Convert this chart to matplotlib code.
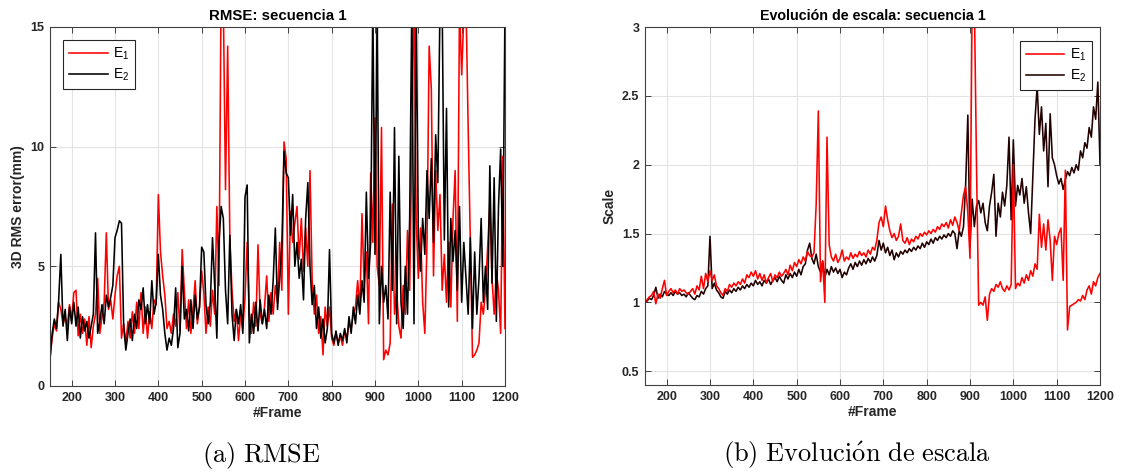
import matplotlib
matplotlib.use('Agg')
import matplotlib.pyplot as plt
import numpy as np

# ---------------- data ----------------
frames = np.arange(150, 1201, 5)

rmse_e1 = [
    1.2, 2.0, 2.6, 2.3, 3.5, 3.2, 2.6, 2.9, 2.5, 3.4,
    2.8, 3.9, 4.0, 2.1, 3.0, 2.2, 2.8, 1.7, 2.9, 1.6,
    2.5, 3.0, 4.5, 2.2, 2.9, 3.5, 6.4, 3.2, 3.6, 2.8,
    3.8, 4.6, 5.0, 2.0, 2.6, 1.8, 2.7, 2.0, 3.1, 2.2,
    3.5, 2.4, 3.9, 2.2, 3.3, 2.0, 3.1, 2.4, 3.6, 3.4,
    8.0, 5.6, 4.6, 3.8, 2.4, 2.7, 2.2, 3.0, 2.5, 3.9,
    2.3, 5.7, 4.0, 2.4, 3.6, 2.2, 3.2, 4.4, 2.6, 3.3,
    4.8, 3.9, 2.2, 3.3, 2.5, 4.0, 3.0, 7.5, 4.2, 17.0,
    16.0, 8.2, 14.2, 6.2, 4.0, 2.7, 3.2, 1.9, 3.0, 2.4,
    3.7, 6.0, 3.0, 2.2, 3.5, 2.5, 5.9, 3.0, 2.6, 3.3,
    4.6, 2.7, 3.9, 3.0, 4.2, 3.5, 6.0, 4.0, 10.2, 9.5,
    3.0, 7.3, 6.0, 6.8, 7.5, 5.3, 7.0, 4.8, 6.6, 5.0,
    9.0, 4.4, 3.0, 3.8, 2.2, 2.9, 1.3, 3.3, 2.5, 3.3,
    2.0, 1.7, 2.2, 1.8, 2.1, 1.7, 2.3, 2.0, 2.6, 2.4,
    3.0, 3.3, 4.4, 3.2, 7.2, 4.2, 5.6, 2.6, 8.9, 6.0,
    11.2, 5.0, 4.2, 10.8, 1.1, 1.5, 1.3, 1.8, 7.6, 3.0,
    4.0, 2.5, 2.0, 4.2, 3.0, 6.5, 4.0, 10.0, 17.0, 7.0,
    4.5, 6.6, 3.5, 2.2, 6.0, 14.2, 12.4, 4.6, 9.0, 6.5,
    8.0, 4.0, 5.5, 3.5, 6.0, 3.3, 7.0, 9.0, 2.7, 16.0,
    13.0, 15.5, 16.0, 10.8, 6.0, 1.2, 1.3, 1.5, 1.8, 3.5,
    3.0, 4.0, 5.8, 7.6, 4.5, 3.0, 4.8, 4.0, 2.2, 9.6,
    2.4,
]

rmse_e2 = [
    1.1, 2.2, 2.8, 2.4, 3.6, 5.5, 2.5, 3.2, 1.9, 3.3,
    2.6, 3.5, 2.5, 3.3, 2.0, 2.9, 2.3, 2.7, 2.0, 2.5,
    3.0, 6.4, 2.2, 2.7, 3.4, 2.6, 3.8, 3.3, 3.7, 4.2,
    6.2, 6.5, 6.9, 6.8, 2.5, 1.5, 2.2, 2.8, 1.9, 3.0,
    2.4, 3.6, 3.2, 4.1, 2.6, 3.4, 2.6, 4.4, 3.0, 3.5,
    5.5, 3.8, 3.2, 2.2, 1.5, 2.0, 1.7, 2.4, 4.1, 1.6,
    2.2, 5.0, 2.8, 3.2, 2.3, 3.6, 2.4, 3.8, 2.8, 3.3,
    5.8, 5.6, 3.4, 2.6, 3.5, 6.2, 4.2, 2.0, 6.0, 7.5,
    7.0, 4.0, 2.6, 6.3, 3.0, 1.9, 3.2, 2.6, 3.4, 2.2,
    7.9, 8.4, 1.8, 3.0, 2.2, 3.5, 2.3, 3.6, 2.6, 3.2,
    2.4, 3.8, 3.0, 4.4, 6.6, 3.2, 4.5, 5.8, 9.8, 8.9,
    8.7, 6.3, 8.0, 5.0, 6.0, 4.5, 5.3, 3.6, 7.0, 8.5,
    5.0, 3.4, 4.2, 2.4, 3.3, 2.0, 2.8, 1.8, 2.4, 5.7,
    2.2, 1.8, 2.3, 1.7, 2.2, 1.9, 2.4, 1.8, 2.9, 2.2,
    3.3, 2.6, 3.8, 3.0, 4.4, 3.5, 8.1, 4.5, 6.0, 16.0,
    5.5, 16.0, 2.6, 5.0, 3.5, 4.2, 2.8, 8.1, 4.0, 10.8,
    2.6, 9.6, 3.5, 2.4, 5.0, 3.0, 7.0, 16.0, 2.6, 16.0,
    6.2, 4.8, 7.0, 5.5, 9.0, 7.0, 9.5, 6.0, 10.5, 8.5,
    16.0, 16.0, 6.1, 11.6, 3.3, 7.0, 5.2, 6.5, 4.0, 7.5,
    3.5, 6.0, 4.5, 3.0, 6.2, 2.4, 5.6, 3.0, 4.5, 7.0,
    3.5, 5.0, 3.2, 9.2, 4.3, 8.7, 2.7, 7.5, 9.9, 5.0,
    16.0,
]

scale_e1 = [
    1.00, 1.02, 1.04, 1.05, 1.08, 0.99, 1.06, 1.03, 1.10, 1.16,
    1.05, 1.08, 1.10, 1.07, 1.09, 1.06, 1.10, 1.08, 1.09, 1.07,
    1.06, 1.08, 1.10, 1.06, 1.12, 1.09, 1.19, 1.10, 1.21, 1.15,
    1.23, 1.16, 1.20, 1.12, 1.10, 1.07, 1.05, 1.10, 1.08, 1.13,
    1.11, 1.14, 1.12, 1.15, 1.13, 1.17, 1.14, 1.20, 1.18, 1.22,
    1.19, 1.23, 1.17, 1.21, 1.16, 1.20, 1.14, 1.18, 1.21, 1.15,
    1.20, 1.18, 1.22, 1.19, 1.21, 1.24, 1.20, 1.27, 1.23, 1.29,
    1.26, 1.31, 1.28, 1.33, 1.30, 1.37, 1.34, 1.33, 1.36, 1.71,
    2.39, 1.15, 1.30, 1.00, 2.20, 1.42, 1.33, 1.30, 1.35, 1.29,
    1.32, 1.38, 1.30, 1.33, 1.31, 1.36, 1.32, 1.35, 1.33, 1.37,
    1.34, 1.36, 1.33, 1.38, 1.35, 1.40, 1.38, 1.45, 1.58, 1.62,
    1.55, 1.70, 1.60, 1.52, 1.47, 1.50, 1.45, 1.48, 1.57, 1.45,
    1.43, 1.47, 1.42, 1.46, 1.44, 1.48, 1.46, 1.50, 1.48, 1.51,
    1.49, 1.52, 1.50, 1.53, 1.51, 1.55, 1.53, 1.57, 1.55, 1.58,
    1.54, 1.60, 1.56, 1.62, 1.58, 1.52, 1.65, 1.78, 1.84, 1.65,
    1.32, 3.20, 3.20, 2.00, 0.98, 1.00, 0.98, 1.04, 0.87, 1.06,
    1.10, 1.08, 1.13, 1.11, 1.15, 1.10, 1.08, 1.12, 1.09, 1.13,
    2.00, 1.10, 1.14, 1.12, 1.18, 1.14, 1.20, 1.16, 1.23, 1.19,
    1.28, 1.24, 1.64, 1.40, 1.57, 1.38, 1.60, 1.45, 1.16, 1.48,
    1.42, 1.50, 1.54, 1.16, 1.96, 0.80, 0.97, 0.98, 0.99, 1.00,
    1.02, 1.01, 1.05, 1.02, 1.09, 1.12, 1.06, 1.15, 1.12, 1.18,
    1.21,
]

scale_e2 = [
    1.00, 1.01, 1.03, 1.02, 1.05, 1.11, 1.03, 1.06, 1.04, 1.08,
    1.06, 1.05, 1.07, 1.05, 1.08, 1.06, 1.07, 1.05, 1.06, 1.04,
    1.07, 1.05, 1.03, 1.02, 1.05, 1.04, 1.08, 1.06, 1.10, 1.12,
    1.48, 1.10, 1.14, 1.09, 1.07, 1.04, 1.03, 1.08, 1.06, 1.09,
    1.07, 1.10, 1.08, 1.11, 1.09, 1.12, 1.10, 1.13, 1.11, 1.14,
    1.12, 1.16, 1.13, 1.15, 1.12, 1.16, 1.14, 1.17, 1.13, 1.16,
    1.18, 1.15, 1.19, 1.16, 1.14, 1.20, 1.17, 1.21, 1.18, 1.22,
    1.19, 1.24, 1.20, 1.26, 1.28, 1.38, 1.43, 1.32, 1.28, 1.35,
    1.26, 1.22, 1.30, 1.18, 1.24, 1.20, 1.26, 1.22, 1.25, 1.21,
    1.24, 1.18, 1.22, 1.20, 1.25, 1.28, 1.24, 1.29, 1.26, 1.30,
    1.27, 1.31, 1.28, 1.32, 1.29, 1.33, 1.30, 1.34, 1.45, 1.38,
    1.43, 1.36, 1.40, 1.34, 1.38, 1.31, 1.36, 1.33, 1.37, 1.35,
    1.38, 1.36, 1.39, 1.37, 1.40, 1.38, 1.41, 1.39, 1.43, 1.40,
    1.44, 1.42, 1.46, 1.43, 1.47, 1.45, 1.48, 1.46, 1.49, 1.47,
    1.50, 1.48, 1.52, 1.50, 1.39, 1.52, 1.48, 1.55, 1.86, 2.36,
    1.40, 1.75, 1.55, 1.70, 1.74, 1.65, 1.72, 1.58, 1.52, 1.70,
    1.80, 1.93, 1.48, 1.72, 1.62, 1.80, 1.70, 1.85, 2.20, 1.60,
    2.18, 1.70, 1.85, 1.78, 1.90, 1.72, 1.84, 1.65, 1.50, 1.91,
    2.33, 2.57, 2.22, 2.42, 2.10, 2.30, 1.84, 2.37, 2.05, 2.00,
    1.92, 1.86, 1.90, 1.82, 1.89, 1.95, 1.92, 1.98, 1.94, 2.00,
    1.96, 2.10, 2.05, 2.16, 2.12, 2.27, 2.20, 2.42, 2.33, 2.60,
    2.00,
]

x_ticks = [200, 300, 400, 500, 600, 700, 800, 900, 1000, 1100, 1200]
rmse_yticks = [0, 5, 10, 15]
scale_yticks = [0.5, 1, 1.5, 2, 2.5, 3]
labels = [r'$\mathregular{E_1}$', r'$\mathregular{E_2}$']

# ---------------- style ----------------
plt.rcParams['font.family'] = ['Liberation Sans', 'DejaVu Sans']
plt.rcParams['mathtext.fontset'] = 'cm'

RED = '#ff0000'
BLACK = '#000000'
DARK = '#220000'
AXC = '#262626'
LW = 1.15

fig = plt.figure(figsize=(11.24, 4.75), dpi=100)
ax1 = fig.add_axes([50 / 1124, 89 / 475, 455 / 1124, 359 / 475])
ax2 = fig.add_axes([645 / 1124, 90 / 475, 455 / 1124, 358 / 475])


def style(ax, yticks, ylim):
    ax.set_xlim(150, 1200)
    ax.set_ylim(*ylim)
    ax.set_xticks(x_ticks)
    ax.set_yticks(yticks)
    ax.grid(True, color='#e3e3e3', linewidth=0.8)
    ax.set_axisbelow(True)
    ax.tick_params(direction='in', length=4, width=0.6, top=True, right=True,
                   labelsize=9, colors=AXC, pad=4)
    for lab in ax.get_xticklabels() + ax.get_yticklabels():
        lab.set_fontweight('bold')
    for sp in ax.spines.values():
        sp.set_color('#404040')
        sp.set_linewidth(0.8)


# ---- left: RMSE ----
l1, = ax1.plot(frames, rmse_e1, color=RED, lw=LW)
l2, = ax1.plot(frames, rmse_e2, color=BLACK, lw=LW)
style(ax1, rmse_yticks, (0, 15))
ax1.set_title('RMSE: secuencia 1', fontsize=10.8, fontweight='bold', pad=5)
ax1.set_xlabel('#Frame', fontsize=10, fontweight='bold', color=AXC, labelpad=2)
ax1.set_ylabel('3D RMS error(mm)', fontsize=10, fontweight='bold', color=AXC, labelpad=4)
leg1 = ax1.legend([l1, l2], labels, loc='upper left', bbox_to_anchor=(0.029, 0.964),
                  borderaxespad=0, fancybox=False, framealpha=1, edgecolor='#262626',
                  fontsize=10, handlelength=2.8, handletextpad=0.4, labelspacing=0.35,
                  borderpad=0.4)
leg1.get_frame().set_linewidth(0.8)

# ---- right: scale ----
r2, = ax2.plot(frames, scale_e2, color=DARK, lw=LW)
r1, = ax2.plot(frames, scale_e1, color=RED, lw=LW)
style(ax2, scale_yticks, (0.4, 3))
ax2.set_yticklabels(['0.5', '1', '1.5', '2', '2.5', '3'])
for lab in ax2.get_yticklabels():
    lab.set_fontweight('bold')
ax2.set_title('Evolución de escala: secuencia 1', fontsize=10.3, fontweight='bold', pad=5)
ax2.set_xlabel('#Frame', fontsize=10, fontweight='bold', color=AXC, labelpad=2)
ax2.set_ylabel('Scale', fontsize=10, fontweight='bold', color=AXC, labelpad=4)
leg2 = ax2.legend([r1, r2], labels, loc='upper right', bbox_to_anchor=(0.982, 0.961),
                  borderaxespad=0, fancybox=False, framealpha=1, edgecolor='#262626',
                  fontsize=10, handlelength=2.8, handletextpad=0.4, labelspacing=0.35,
                  borderpad=0.4)
leg2.get_frame().set_linewidth(0.8)

# ---- sub captions ----
fig.text(0.233, 0.042, r'$\mathrm{(a)\ RMSE}$', ha='center', va='center', fontsize=19)
fig.text(0.7625, 0.042, r'$\mathrm{(b)\ Evoluci\acute{o}n\ de\ escala}$',
         ha='center', va='center', fontsize=19)

fig.savefig('out.png', dpi=100)
